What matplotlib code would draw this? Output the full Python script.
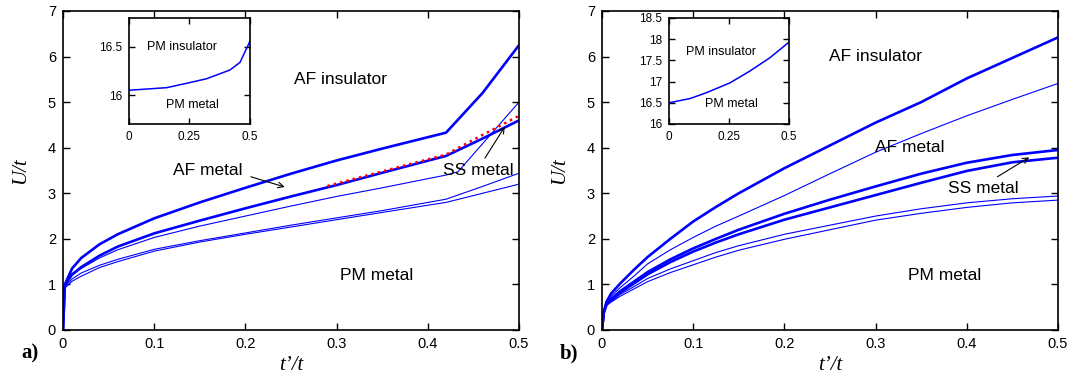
import matplotlib
matplotlib.use('Agg')
import matplotlib.pyplot as plt

# ---- data, panel a) ----
xa = [0, 0.002, 0.01, 0.02, 0.04, 0.06, 0.1, 0.15, 0.2, 0.25, 0.3, 0.35, 0.42, 0.46, 0.5]
a_af_ins = [0, 1.0, 1.35, 1.58, 1.88, 2.1, 2.45, 2.8, 3.12, 3.43, 3.72, 3.98, 4.33, 5.2, 6.25]
a_af_met = [0, 0.98, 1.22, 1.38, 1.63, 1.83, 2.12, 2.4, 2.67, 2.93, 3.18, 3.45, 3.82, 4.2, 4.6]
a_thin4 = [0, 0.95, 1.12, 1.25, 1.42, 1.55, 1.77, 1.96, 2.13, 2.3, 2.46, 2.62, 2.87, 3.15, 3.44]
a_thin5 = [0, 0.92, 1.07, 1.18, 1.37, 1.5, 1.73, 1.93, 2.1, 2.26, 2.42, 2.58, 2.8, 3.0, 3.2]
xa_ss = [0, 0.002, 0.01, 0.02, 0.04, 0.06, 0.1, 0.15, 0.2, 0.25, 0.3, 0.35, 0.42, 0.433, 0.5]
a_ss = [0, 0.97, 1.2, 1.35, 1.58, 1.76, 2.03, 2.28, 2.5, 2.72, 2.93, 3.12, 3.4, 3.47, 5.0]
xa_red = [0.29, 0.35, 0.42, 0.46, 0.5]
a_red = [3.16, 3.48, 3.85, 4.28, 4.7]
# inset a)
xa_in = [0, 0.156, 0.252, 0.321, 0.417, 0.459, 0.5]
a_in = [16.05, 16.077, 16.13, 16.17, 16.26, 16.34, 16.56]

# ---- data, panel b) ----
xb = [0, 0.002, 0.005, 0.01, 0.02, 0.035, 0.05, 0.075, 0.1, 0.125, 0.15,
      0.2, 0.25, 0.3, 0.35, 0.4, 0.45, 0.5]
b_af_ins = [0, 0.4, 0.62, 0.8, 1.02, 1.32, 1.6, 2.0, 2.38, 2.7, 3.0,
            3.55, 4.05, 4.55, 5.0, 5.52, 5.97, 6.42]
b_af_met = [0, 0.39, 0.6, 0.74, 0.93, 1.18, 1.45, 1.76, 2.03, 2.28, 2.5,
            2.95, 3.43, 3.9, 4.31, 4.7, 5.06, 5.41]
b_ss1 = [0, 0.38, 0.57, 0.68, 0.85, 1.06, 1.27, 1.55, 1.79, 2.0, 2.2,
         2.55, 2.86, 3.15, 3.43, 3.67, 3.84, 3.95]
b_ss2 = [0, 0.38, 0.56, 0.66, 0.82, 1.02, 1.22, 1.49, 1.72, 1.92, 2.1,
         2.42, 2.69, 2.96, 3.23, 3.49, 3.68, 3.78]
b_thin4 = [0, 0.37, 0.55, 0.63, 0.78, 0.95, 1.13, 1.34, 1.52, 1.7, 1.85,
           2.1, 2.3, 2.5, 2.66, 2.79, 2.88, 2.94]
b_thin5 = [0, 0.36, 0.54, 0.61, 0.74, 0.9, 1.06, 1.26, 1.43, 1.6, 1.75,
           1.99, 2.2, 2.41, 2.56, 2.69, 2.79, 2.85]
# inset b)
xb_in = [0, 0.0875, 0.157, 0.254, 0.3375, 0.42, 0.5]
b_in = [16.5, 16.6, 16.74, 16.97, 17.25, 17.56, 17.93]

main_xticks = [0, 0.1, 0.2, 0.3, 0.4, 0.5]
main_xlabels = ['0', '0.1', '0.2', '0.3', '0.4', '0.5']
main_yticks = [0, 1, 2, 3, 4, 5, 6, 7]
in_xticks = [0, 0.25, 0.5]
in_xlabels = ['0', '0.25', '0.5']

BLUE = '#0000ff'
THICK = 1.9
THIN = 0.8
SANS = 'Liberation Sans'
SERIF = 'Liberation Serif'

plt.rcParams['font.family'] = SANS


def style_axes(ax, size):
    ax.tick_params(direction='in', top=True, right=True, length=5, width=1,
                   labelsize=size, pad=5)
    for s in ax.spines.values():
        s.set_linewidth(1.2)


fig = plt.figure(figsize=(10.73, 3.8), dpi=100)
axA = fig.add_axes([0.0587, 0.1316, 0.425, 0.8395])
axB = fig.add_axes([0.561, 0.1316, 0.425, 0.8395])

# panel a)
axA.plot(xa, a_af_ins, color=BLUE, lw=THICK)
axA.plot(xa, a_af_met, color=BLUE, lw=THICK)
axA.plot(xa_ss, a_ss, color=BLUE, lw=THIN)
axA.plot(xa, a_thin4, color=BLUE, lw=THIN)
axA.plot(xa, a_thin5, color=BLUE, lw=THIN)
axA.plot(xa_red, a_red, color='red', lw=1.8, ls=(0, (1, 1.6)))

# panel b)
axB.plot(xb, b_af_ins, color=BLUE, lw=THICK)
axB.plot(xb, b_af_met, color=BLUE, lw=THIN)
axB.plot(xb, b_ss1, color=BLUE, lw=THICK)
axB.plot(xb, b_ss2, color=BLUE, lw=THICK)
axB.plot(xb, b_thin4, color=BLUE, lw=THIN)
axB.plot(xb, b_thin5, color=BLUE, lw=THIN)

for ax, tag in [(axA, 'a)'), (axB, 'b)')]:
    ax.set_xlim(0, 0.5)
    ax.set_ylim(0, 7)
    ax.set_xticks(main_xticks)
    ax.set_xticklabels(main_xlabels)
    ax.set_yticks(main_yticks)
    style_axes(ax, 10.5)
    ax.set_xlabel('t\u2019/t', family=SERIF, style='italic', fontsize=15, labelpad=4)
    ax.set_ylabel('U/t', family=SERIF, style='italic', fontsize=15, labelpad=13)
    ax.text(-0.072, -0.075, tag, transform=ax.transAxes, family=SERIF,
            fontweight='bold', fontsize=15, ha='center', va='center')

# labels a)
axA.text(0.304, 5.49, 'AF insulator', fontsize=12.5, ha='center', va='center')
axA.text(0.159, 3.51, 'AF metal', fontsize=12.5, ha='center', va='center')
axA.text(0.455, 3.51, 'SS metal', fontsize=12.5, ha='center', va='center')
axA.text(0.344, 1.2, 'PM metal', fontsize=12.5, ha='center', va='center')
axA.annotate('', xy=(0.246, 3.12), xytext=(0.203, 3.38),
             arrowprops=dict(arrowstyle='->', color='black', lw=0.8))
axA.annotate('', xy=(0.486, 4.51), xytext=(0.461, 3.72),
             arrowprops=dict(arrowstyle='->', color='black', lw=0.8))

# labels b)
axB.text(0.3004, 6.0, 'AF insulator', fontsize=12.5, ha='center', va='center')
axB.text(0.338, 4.01, 'AF metal', fontsize=12.5, ha='center', va='center')
axB.text(0.418, 3.11, 'SS metal', fontsize=12.5, ha='center', va='center')
axB.text(0.376, 1.2, 'PM metal', fontsize=12.5, ha='center', va='center')
axB.annotate('', xy=(0.471, 3.82), xytext=(0.431, 3.33),
             arrowprops=dict(arrowstyle='->', color='black', lw=0.8))

# insets
inA = fig.add_axes([0.1202, 0.6737, 0.1128, 0.279])
inA.plot(xa_in, a_in, color=BLUE, lw=1.1)
inA.set_xlim(0, 0.5)
inA.set_ylim(15.7, 16.8)
inA.set_yticks([16, 16.5])
inA.set_yticklabels(['16', '16.5'])
inA.text(0.218, 16.5, 'PM insulator', fontsize=9, ha='center', va='center')
inA.text(0.263, 15.9, 'PM metal', fontsize=9, ha='center', va='center')

inB = fig.add_axes([0.6235, 0.6737, 0.1118, 0.279])
inB.plot(xb_in, b_in, color=BLUE, lw=1.1)
inB.set_xlim(0, 0.5)
inB.set_ylim(16, 18.5)
inB.set_yticks([16, 16.5, 17, 17.5, 18, 18.5])
inB.set_yticklabels(['16', '16.5', '17', '17.5', '18', '18.5'])
inB.text(0.217, 17.69, 'PM insulator', fontsize=9, ha='center', va='center')
inB.text(0.261, 16.48, 'PM metal', fontsize=9, ha='center', va='center')

for ax in (inA, inB):
    ax.set_xticks(in_xticks)
    ax.set_xticklabels(in_xlabels)
    style_axes(ax, 8.5)
    ax.tick_params(length=4)

fig.savefig('out.png', dpi=100)
